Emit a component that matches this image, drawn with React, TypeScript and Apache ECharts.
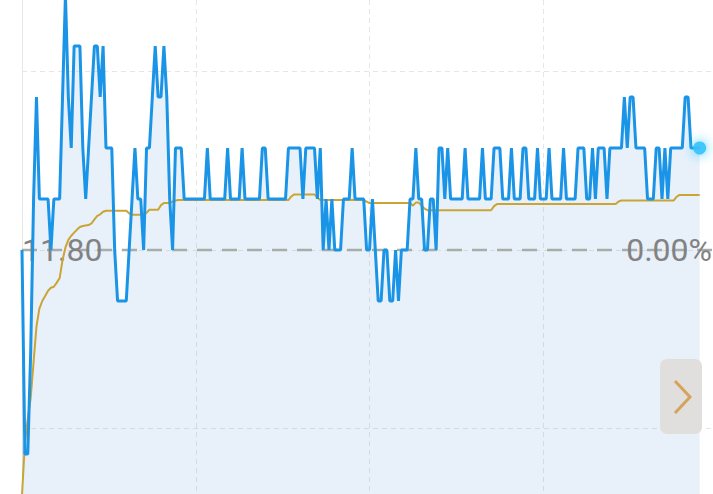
import React, { useEffect, useRef } from "react";
import * as echarts from "echarts";

// previous close (reference line) and change label
const prevClose = 11.8;
const changeLabel = "0.00%";

// session axis: minutes since open, hourly grid lines
const hourMinutes = 60;

// minute-by-minute last price
const prices = [
  11.80, 11.76, 11.76, 11.78, 11.81, 11.83, 11.81, 11.81, 11.81, 11.81,
  11.80, 11.81, 11.81, 11.81, 11.83, 11.85, 11.83, 11.82, 11.84, 11.84,
  11.84, 11.82, 11.81, 11.82, 11.83, 11.84, 11.84, 11.83, 11.84, 11.82,
  11.82, 11.82, 11.80, 11.79, 11.79, 11.79, 11.79, 11.80, 11.81, 11.82,
  11.81, 11.81, 11.80, 11.82, 11.82, 11.83, 11.84, 11.83, 11.83, 11.84,
  11.83, 11.81, 11.80, 11.82, 11.82, 11.82, 11.81, 11.81, 11.81, 11.81,
  11.81, 11.81, 11.81, 11.81, 11.82, 11.81, 11.81, 11.81, 11.81, 11.81,
  11.81, 11.82, 11.81, 11.81, 11.81, 11.81, 11.82, 11.81, 11.81, 11.81,
  11.81, 11.81, 11.81, 11.82, 11.82, 11.81, 11.81, 11.81, 11.81, 11.81,
  11.81, 11.81, 11.82, 11.82, 11.82, 11.82, 11.82, 11.81, 11.82, 11.82,
  11.82, 11.82, 11.81, 11.82, 11.80, 11.81, 11.80, 11.81, 11.80, 11.80,
  11.80, 11.81, 11.81, 11.81, 11.82, 11.81, 11.81, 11.81, 11.81, 11.80,
  11.80, 11.81, 11.80, 11.79, 11.79, 11.80, 11.80, 11.79, 11.79, 11.80,
  11.79, 11.80, 11.80, 11.80, 11.81, 11.81, 11.82, 11.81, 11.81, 11.80,
  11.80, 11.81, 11.81, 11.80, 11.82, 11.82, 11.81, 11.82, 11.81, 11.81,
  11.81, 11.81, 11.81, 11.82, 11.81, 11.81, 11.81, 11.81, 11.81, 11.82,
  11.81, 11.81, 11.81, 11.82, 11.82, 11.82, 11.81, 11.81, 11.81, 11.82,
  11.81, 11.81, 11.81, 11.82, 11.82, 11.81, 11.81, 11.81, 11.82, 11.81,
  11.81, 11.81, 11.82, 11.81, 11.81, 11.81, 11.81, 11.82, 11.81, 11.81,
  11.81, 11.81, 11.82, 11.82, 11.82, 11.81, 11.81, 11.82, 11.81, 11.82,
  11.82, 11.82, 11.81, 11.82, 11.82, 11.82, 11.82, 11.82, 11.83, 11.82,
  11.83, 11.83, 11.82, 11.82, 11.82, 11.82, 11.81, 11.81, 11.81, 11.82,
  11.82, 11.81, 11.82, 11.81, 11.82, 11.82, 11.82, 11.82, 11.82, 11.83,
  11.83, 11.82, 11.82, 11.82, 11.82,
];

// minute-by-minute average price
const avgPrices = [
  11.752, 11.762, 11.767, 11.771, 11.778, 11.785, 11.7885, 11.790, 11.791, 11.792,
  11.7926, 11.7928, 11.7936, 11.7945, 11.798, 11.8005, 11.802, 11.8028, 11.8034, 11.804,
  11.8045, 11.8047, 11.8048, 11.8049, 11.8052, 11.806, 11.8067, 11.807, 11.8075, 11.8077,
  11.8077, 11.8077, 11.8077, 11.8077, 11.8077, 11.8077, 11.8077, 11.8072, 11.8069, 11.8069,
  11.8069, 11.8069, 11.8069, 11.8073, 11.8079, 11.8079, 11.8079, 11.8079, 11.8088, 11.8092,
  11.8092, 11.8092, 11.8095, 11.8097, 11.8098, 11.8098, 11.8098, 11.8098, 11.8098, 11.8098,
  11.8098, 11.8098, 11.8098, 11.8098, 11.8098, 11.8098, 11.8098, 11.8098, 11.8098, 11.8098,
  11.8098, 11.8098, 11.8098, 11.8098, 11.8098, 11.8098, 11.8098, 11.8098, 11.8098, 11.8098,
  11.8098, 11.8098, 11.8098, 11.8098, 11.8098, 11.8098, 11.8098, 11.8098, 11.8098, 11.8098,
  11.8098, 11.8098, 11.8098, 11.8105, 11.8109, 11.8109, 11.8109, 11.8109, 11.8109, 11.8109,
  11.8109, 11.8109, 11.8103, 11.8098, 11.8098, 11.8098, 11.8098, 11.8098, 11.8098, 11.8098,
  11.8098, 11.8098, 11.8098, 11.8098, 11.8098, 11.8098, 11.8098, 11.8098, 11.8098, 11.8095,
  11.8092, 11.8092, 11.8092, 11.8092, 11.8092, 11.8092, 11.8092, 11.8092, 11.8092, 11.8092,
  11.8092, 11.8092, 11.8092, 11.8092, 11.8092, 11.8087, 11.8093, 11.8093, 11.8087, 11.8081,
  11.8078, 11.8078, 11.8078, 11.8078, 11.8078, 11.8078, 11.8078, 11.8078, 11.8078, 11.8078,
  11.8078, 11.8078, 11.8078, 11.8078, 11.8078, 11.8078, 11.8078, 11.8078, 11.8078, 11.8078,
  11.8078, 11.8078, 11.8078, 11.8086, 11.809, 11.809, 11.809, 11.809, 11.809, 11.809,
  11.809, 11.809, 11.809, 11.809, 11.809, 11.809, 11.809, 11.809, 11.809, 11.809,
  11.809, 11.809, 11.809, 11.809, 11.809, 11.809, 11.809, 11.809, 11.809, 11.809,
  11.809, 11.809, 11.809, 11.809, 11.809, 11.809, 11.809, 11.809, 11.809, 11.809,
  11.809, 11.809, 11.809, 11.809, 11.809, 11.809, 11.8095, 11.8097, 11.8097, 11.8097,
  11.8097, 11.8097, 11.8097, 11.8097, 11.8097, 11.8097, 11.8097, 11.8097, 11.8097, 11.8097,
  11.8097, 11.8097, 11.8097, 11.8097, 11.8097, 11.8097, 11.8104, 11.8108, 11.8108, 11.8108,
  11.8108, 11.8108, 11.8108, 11.8108, 11.8108,
];

// visible window of the (cropped) chart
const W = 713;
const H = 494;
const gridLeft = 22;
const pxPerMinute = 2.896;
const pxPerPrice = 5100; // 0.01 -> 51px
const midY = 250;
const gridStep = 0.035; // price spacing of horizontal grid lines

export default function App() {
  const ref = useRef<HTMLDivElement>(null);

  useEffect(() => {
    if (!ref.current) return;
    const chart = echarts.init(ref.current, null, { renderer: "svg" });

    const priceData = prices.map((p, i) => [i, p]);
    const avgData = avgPrices.map((p, i) => [i, p]);
    const lastIdx = prices.length - 1;

    const yMax = prevClose + midY / pxPerPrice;
    const yMin = prevClose - (H - midY) / pxPerPrice;
    const xMax = (W - gridLeft) / pxPerMinute;
    const stepPx = gridStep * pxPerPrice;

    const gridDash = { color: "#e6e6e6", width: 1, type: [5, 4] as number[] };

    chart.setOption({
      animation: false,
      backgroundColor: "#ffffff",
      grid: [
        { left: gridLeft, right: 0, top: 0, bottom: 0, containLabel: false },
        {
          left: gridLeft,
          right: 0,
          top: midY - stepPx,
          bottom: H - (midY + stepPx),
          containLabel: false,
        },
      ],
      xAxis: [
        {
          type: "value",
          gridIndex: 0,
          min: 0,
          max: xMax,
          interval: hourMinutes,
          axisLine: { show: false },
          axisTick: { show: false },
          axisLabel: { show: false },
          splitLine: { show: true, showMinLine: false, showMaxLine: false, lineStyle: gridDash },
        },
        {
          type: "value",
          gridIndex: 1,
          min: 0,
          max: 1,
          show: false,
        },
      ],
      yAxis: [
        {
          type: "value",
          gridIndex: 0,
          min: yMin,
          max: yMax,
          axisLine: { show: true, onZero: false, lineStyle: { color: "#e6e6e6", width: 1 } },
          axisTick: { show: false },
          axisLabel: { show: false },
          splitLine: { show: false },
        },
        {
          type: "value",
          gridIndex: 1,
          min: -1,
          max: 1,
          interval: 1,
          axisLine: { show: false },
          axisTick: { show: false },
          axisLabel: { show: false },
          splitLine: { show: true, lineStyle: gridDash },
        },
      ],
      series: [
        {
          type: "line",
          data: priceData,
          symbol: "none",
          silent: true,
          z: 1,
          lineStyle: { width: 0, opacity: 0 },
          areaStyle: { color: "rgba(60,130,210,0.17)" },
        },
        {
          type: "line",
          data: [
            [0, prevClose],
            [xMax, prevClose],
          ],
          symbol: "none",
          silent: true,
          z: 2,
          lineStyle: { color: "#a7aeaa", width: 2.5, type: [15, 10] },
        },
        {
          type: "line",
          data: avgData,
          symbol: "none",
          silent: true,
          z: 4,
          lineStyle: { color: "#c9a536", width: 2 },
        },
        {
          type: "line",
          data: priceData,
          symbol: "none",
          silent: true,
          z: 5,
          lineStyle: { color: "#1a94e6", width: 3 },
        },
        {
          type: "scatter",
          data: [[lastIdx, prices[lastIdx]]],
          symbolSize: 13,
          silent: true,
          z: 6,
          itemStyle: {
            color: "#36c2fb",
            opacity: 0.9,
            shadowBlur: 12,
            shadowColor: "rgba(40,200,255,1)",
          },
        },
      ],
      graphic: [
        {
          type: "text",
          x: 22,
          y: 250,
          z: 3,
          style: {
            text: prevClose.toFixed(2),
            font: "32px Roboto",
            fill: "#828282",
            textAlign: "left",
            textVerticalAlign: "middle",
          },
        },
        {
          type: "text",
          x: 712,
          y: 250,
          z: 3,
          style: {
            text: changeLabel,
            font: "32px Roboto",
            fill: "#828282",
            textAlign: "right",
            textVerticalAlign: "middle",
          },
        },
        {
          type: "rect",
          z: 10,
          shape: { x: 660, y: 359, width: 42, height: 75, r: 7 },
          style: { fill: "#e0dfdd" },
        },
        {
          type: "polyline",
          z: 11,
          shape: {
            points: [
              [675, 381],
              [690, 397],
              [675, 413],
            ],
          },
          style: { stroke: "#d5a35a", lineWidth: 3, fill: "none" },
        },
      ],
    });

    return () => chart.dispose();
  }, []);

  return (
    <div
      ref={ref}
      style={{ position: "fixed", left: 0, top: 0, width: W, height: H, background: "#fff" }}
    />
  );
}
